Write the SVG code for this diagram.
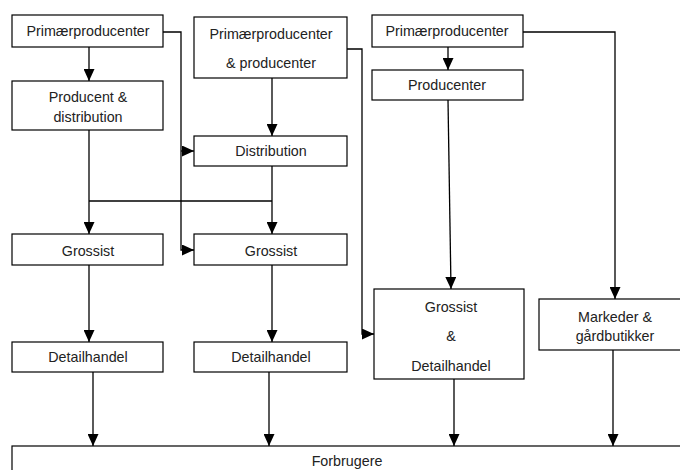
<svg xmlns="http://www.w3.org/2000/svg" width="680" height="470" viewBox="0 0 680 470">
<style>
.box{fill:#fff;stroke:#000;stroke-width:1.2}
.t{font-family:"Liberation Sans",Arial,sans-serif;font-size:14.3px;fill:#222;text-anchor:middle}
.c{fill:none;stroke:#000;stroke-width:1.3}
</style>
<defs>
<marker id="a" markerUnits="userSpaceOnUse" markerWidth="12" markerHeight="11" refX="12" refY="5.5" orient="auto">
<path d="M0,0 L12,5.5 L0,11 z" fill="#000"/>
</marker>
</defs>
<rect width="680" height="470" fill="#fff"/>
<g id="connectors">
<path class="c" d="M89,47 V81" marker-end="url(#a)"/>
<path class="c" d="M163,32 H181 V250 H194" marker-end="url(#a)"/>
<path class="c" d="M181,151 H194" marker-end="url(#a)"/>
<path class="c" d="M272,78 V136" marker-end="url(#a)"/>
<path class="c" d="M89,130 V234" marker-end="url(#a)"/>
<path class="c" d="M272,166 V234" marker-end="url(#a)"/>
<path class="c" d="M89,201 H272"/>
<path class="c" d="M89,265 V342" marker-end="url(#a)"/>
<path class="c" d="M272,265 V342" marker-end="url(#a)"/>
<path class="c" d="M93,372 V446" marker-end="url(#a)"/>
<path class="c" d="M269,372 V446" marker-end="url(#a)"/>
<path class="c" d="M347,49 H362 V334 H374" marker-end="url(#a)"/>
<path class="c" d="M448,47 V70" marker-end="url(#a)"/>
<path class="c" d="M448,100 L451,289" marker-end="url(#a)"/>
<path class="c" d="M523,32 H615 V299" marker-end="url(#a)"/>
<path class="c" d="M454,379 V446" marker-end="url(#a)"/>
<path class="c" d="M613,350 V446" marker-end="url(#a)"/>
</g>
<g id="n1"><rect class="box" x="12" y="15" width="151" height="32"/><text class="t" x="88" y="36">Primærproducenter</text></g>
<g id="n2"><rect class="box" x="12" y="81" width="151" height="49"/><text class="t" x="88" y="102">Producent &amp;</text><text class="t" x="88" y="122">distribution</text></g>
<g id="n3"><rect class="box" x="194" y="17" width="153" height="61"/><text class="t" x="271" y="39">Primærproducenter</text><text class="t" x="271" y="68">&amp; producenter</text></g>
<g id="n4"><rect class="box" x="194" y="136" width="153" height="30"/><text class="t" x="271" y="156">Distribution</text></g>
<g id="n5"><rect class="box" x="372" y="15" width="151" height="32"/><text class="t" x="447" y="36">Primærproducenter</text></g>
<g id="n6"><rect class="box" x="372" y="70" width="151" height="30"/><text class="t" x="447" y="90">Producenter</text></g>
<g id="n7"><rect class="box" x="12" y="234" width="151" height="31"/><text class="t" x="88" y="256">Grossist</text></g>
<g id="n8"><rect class="box" x="194" y="234" width="153" height="31"/><text class="t" x="271" y="256">Grossist</text></g>
<g id="n9"><rect class="box" x="374" y="289" width="150" height="90"/><text class="t" x="451" y="312">Grossist</text><text class="t" x="451" y="341">&amp;</text><text class="t" x="451" y="371">Detailhandel</text></g>
<g id="n10"><rect class="box" x="539" y="299" width="152" height="51"/><text class="t" x="615" y="322">Markeder &amp;</text><text class="t" x="615" y="341">gårdbutikker</text></g>
<g id="n11"><rect class="box" x="12" y="342" width="151" height="30"/><text class="t" x="88" y="362">Detailhandel</text></g>
<g id="n12"><rect class="box" x="194" y="342" width="153" height="30"/><text class="t" x="271" y="362">Detailhandel</text></g>
<g id="n13"><rect class="box" x="12" y="446" width="671" height="40"/><text class="t" x="347" y="466">Forbrugere</text></g>
</svg>
